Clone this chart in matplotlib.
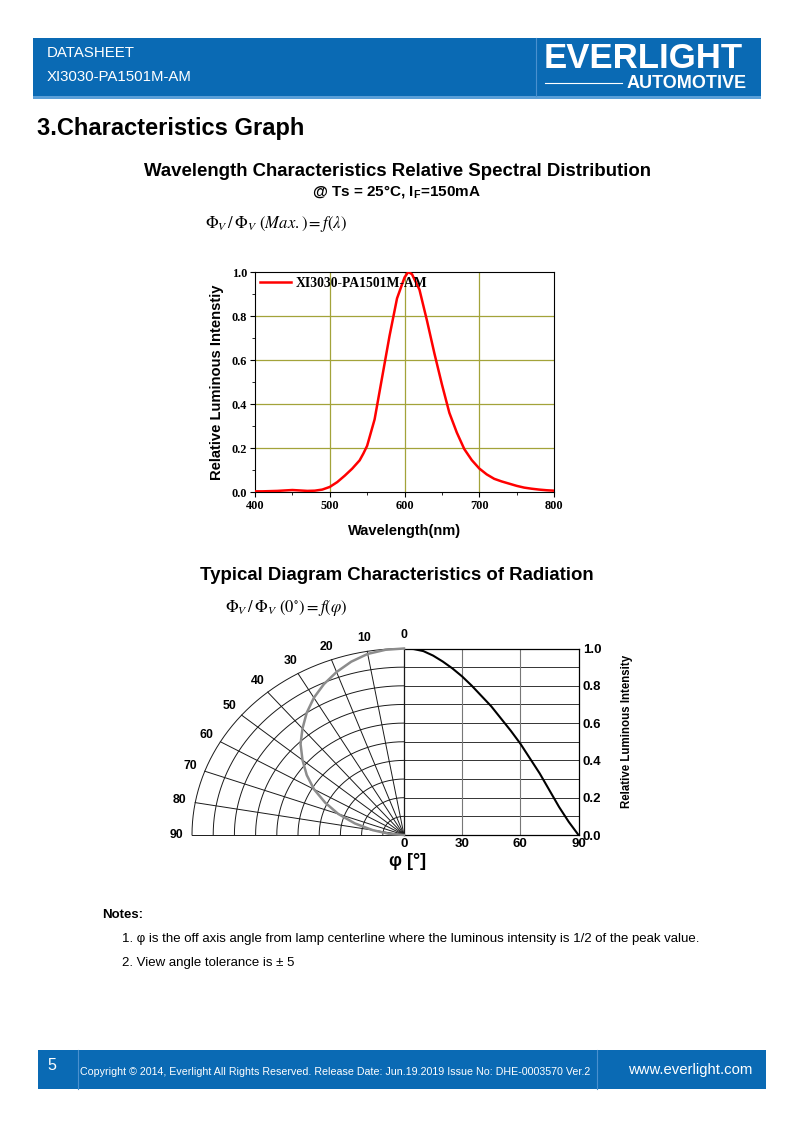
import numpy as np
import matplotlib
matplotlib.use("Agg")
import matplotlib.pyplot as plt
from matplotlib.patches import Rectangle
from matplotlib.ticker import MultipleLocator

# ---------------- data ----------------
wavelength_nm = [400, 410, 420, 430, 440, 450, 460, 470, 480, 490, 500, 510, 520, 530, 540,
                 545, 550, 560, 570, 580, 590, 600, 605, 610, 620, 630, 640, 650, 660, 670,
                 680, 690, 700, 710, 720, 730, 740, 750, 760, 770, 780, 790, 800]
rel_intensity = [0.003, 0.003, 0.004, 0.005, 0.007, 0.009, 0.007, 0.005, 0.006, 0.011, 0.023,
                 0.045, 0.074, 0.106, 0.144, 0.175, 0.21, 0.33, 0.52, 0.71, 0.88, 0.975, 1.0,
                 0.99, 0.92, 0.78, 0.63, 0.49, 0.36, 0.27, 0.195, 0.145, 0.107, 0.08, 0.06,
                 0.048, 0.038, 0.028, 0.02, 0.015, 0.011, 0.008, 0.006]
series_label = "XI3030-PA1501M-AM"
spec_xticks = [400, 500, 600, 700, 800]
spec_yticks = [0.0, 0.2, 0.4, 0.6, 0.8, 1.0]

angle_deg = [0, 5, 10, 15, 20, 25, 30, 35, 40, 45, 50, 55, 60, 65, 70, 75, 80, 85, 90]
rad_intensity = [1.0, 0.997, 0.986, 0.962, 0.93, 0.893, 0.85, 0.80, 0.745, 0.69, 0.625,
                 0.56, 0.49, 0.41, 0.33, 0.24, 0.15, 0.07, 0.0]
rad_xticks = [0, 30, 60, 90]
rad_yticks = [0.0, 0.2, 0.4, 0.6, 0.8, 1.0]
polar_angle_labels = [0, 10, 20, 30, 40, 50, 60, 70, 80, 90]
polar_rings = [0.1, 0.2, 0.3, 0.4, 0.5, 0.6, 0.7, 0.8, 0.9, 1.0]

# ---------------- page ----------------
W, H = 794, 1123
fig = plt.figure(figsize=(W / 100, H / 100), dpi=100)
fig.patch.set_facecolor("white")
SANS = ["Liberation Sans", "DejaVu Sans"]
SERIF = ["Liberation Serif", "DejaVu Serif"]
plt.rcParams["mathtext.fontset"] = "stix"
BLUE = "#0a6ab4"

page = fig.add_axes([0, 0, 1, 1])
page.set_xlim(0, W)
page.set_ylim(H, 0)
page.axis("off")
page.set_zorder(-5)


def T(x, y, s, **kw):
    kw.setdefault("family", SANS)
    kw.setdefault("va", "center")
    page.text(x, y, s, **kw)


def ax_px(l, t, r, b):
    return fig.add_axes([l / W, 1 - b / H, (r - l) / W, (b - t) / H])


# header
page.add_patch(Rectangle((33, 38), 728, 60, color=BLUE, lw=0))
page.add_patch(Rectangle((33, 96), 728, 2.5, color="#5a9fd8", lw=0))
page.plot([536, 536], [38, 96], color="#4a90cf", lw=0.8)
T(47, 53, "DATASHEET", color="white", fontsize=10.8)
T(47, 77, "XI3030-PA1501M-AM", color="white", fontsize=10.8)
T(544, 58, "EVERLIGHT", color="white", fontsize=25, weight="bold")
T(747, 83, "AUTOMOTIVE", color="white", fontsize=13, weight="bold", ha="right")
page.plot([545, 622], [83, 83], color="white", lw=0.8)

# footer
page.add_patch(Rectangle((38, 1050), 728, 39, color=BLUE, lw=0))
page.plot([78, 78], [1050, 1089], color="#4a90cf", lw=0.8)
page.plot([597, 597], [1050, 1089], color="#4a90cf", lw=0.8)
T(47, 1066, "5", color="white", fontsize=11.5)
T(80, 1072, "Copyright \u00a9 2014, Everlight All Rights Reserved. Release Date: Jun.19.2019 Issue No: DHE-0003570 Ver.2",
  color="white", fontsize=7.7)
T(628, 1070, "www.everlight.com", color="white", fontsize=10.7)

# section titles
T(37, 128, "3.Characteristics Graph", fontsize=17, weight="bold")
T(397, 171, "Wavelength Characteristics Relative Spectral Distribution", fontsize=13.4, weight="bold", ha="center")
T(397, 191, "@ Ts = 25\u00b0C, I$_\\mathregular{F}$=150mA", fontsize=11, weight="bold", ha="center")
T(205, 224, r"$\Phi_V\,/\,\Phi_V\ (Max.) = f\left(\lambda\right)$", fontsize=12)
T(397, 575, "Typical Diagram Characteristics of Radiation", fontsize=13.4, weight="bold", ha="center")
T(225, 608, r"$\Phi_V\,/\,\Phi_V\ (0^{\circ}) = f\left(\varphi\right)$", fontsize=12)

# notes
T(102, 915, "Notes:", fontsize=9.5, weight="bold")
T(122, 939, "1. \u03c6 is the off axis angle from lamp centerline where the luminous intensity is 1/2 of the peak value.", fontsize=9.5)
T(122, 963, "2. View angle tolerance is \u00b1 5", fontsize=9.5)

# ---------------- spectrum chart ----------------
ax = ax_px(255, 272, 554, 492)
ax.plot(wavelength_nm, rel_intensity, color="#ff0000", lw=1.8, label=series_label, zorder=3)
ax.set_xlim(400, 800)
ax.set_ylim(0, 1.0)
ax.set_xticks(spec_xticks)
ax.set_yticks(spec_yticks)
ax.xaxis.set_minor_locator(MultipleLocator(50))
ax.yaxis.set_minor_locator(MultipleLocator(0.1))
ax.set_xticklabels([str(v) for v in spec_xticks], family=SERIF, weight="bold", fontsize=8.8)
ax.set_yticklabels(["%.1f" % v for v in spec_yticks], family=SERIF, weight="bold", fontsize=8.8)
ax.tick_params(which="major", direction="out", length=3.5, width=0.8, pad=2)
ax.tick_params(which="minor", direction="out", length=2, width=0.6)
for v in spec_xticks[1:-1]:
    ax.axvline(v, color="#a3a33a", lw=0.9, zorder=1)
for v in spec_yticks[1:-1]:
    ax.axhline(v, color="#a3a33a", lw=0.9, zorder=1)
for s in ax.spines.values():
    s.set_linewidth(0.8)
leg = ax.legend(loc="upper left", frameon=False, prop={"family": SERIF, "weight": "bold", "size": 9.8},
                handlelength=2.3, borderaxespad=0.2, handletextpad=0.35, borderpad=0.15)
ax.set_ylabel("Relative Luminous Intenstiy", family=SANS, weight="bold", fontsize=10.6, labelpad=6)
ax.set_xlabel("Wavelength(nm)", family=SANS, weight="bold", fontsize=10.5, labelpad=9)

# ---------------- radiation: cartesian part ----------------
ar = ax_px(404, 648.5, 578.5, 835)
ar.plot(angle_deg, rad_intensity, color="black", lw=1.5, zorder=3)
ar.set_xlim(0, 90)
ar.set_ylim(0, 1.0)
for v in np.arange(1, 10) / 10:
    ar.axhline(v, color="#333333", lw=0.7, zorder=1)
for v in rad_xticks[1:-1]:
    ar.axvline(v, color="#777777", lw=0.8, zorder=1)
ar.set_xticks(rad_xticks)
ar.set_xticklabels([str(v) for v in rad_xticks], family=SANS, weight="bold", fontsize=9.5)
ar.yaxis.tick_right()
ar.set_yticks(rad_yticks)
ar.set_yticklabels(["%.1f" % v for v in rad_yticks], family=SANS, weight="bold", fontsize=9.5)
ar.tick_params(length=0, pad=2)
ar.tick_params(axis="y", pad=3)
for s in ar.spines.values():
    s.set_linewidth(0.9)
T(627, 731, "Relative Luminous Intensity", fontsize=8.3, weight="bold", rotation=90, ha="center")
T(408, 862, "\u03c6 [\u00b0]", fontsize=13, weight="bold", ha="center")

# ---------------- radiation: polar part ----------------
ap = ax_px(192, 648.5, 404, 835)
ap.set_xlim(-1, 0)
ap.set_ylim(0, 1)
ap.axis("off")
phi_grid = np.radians(np.linspace(0, 90, 181))
for r in polar_rings:
    ap.plot(-r * np.sin(phi_grid), r * np.cos(phi_grid), color="#1a1a1a", lw=0.7,
            clip_on=False, zorder=1)
for a in polar_angle_labels:
    t = np.radians(a)
    ap.plot([0, -np.sin(t)], [0, np.cos(t)], color="#1a1a1a", lw=0.7, clip_on=False, zorder=1)
    rl = 1.075
    ap.text(-rl * np.sin(t), rl * np.cos(t), str(a), family=SANS, weight="bold",
            fontsize=8.8, ha="center", va="center")
th = np.radians(angle_deg)
ri = np.array(rad_intensity)
ap.plot(-ri * np.sin(th), ri * np.cos(th), color="#8c8c8c", lw=1.8, clip_on=False, zorder=2)

fig.savefig("out.png", dpi=100)
